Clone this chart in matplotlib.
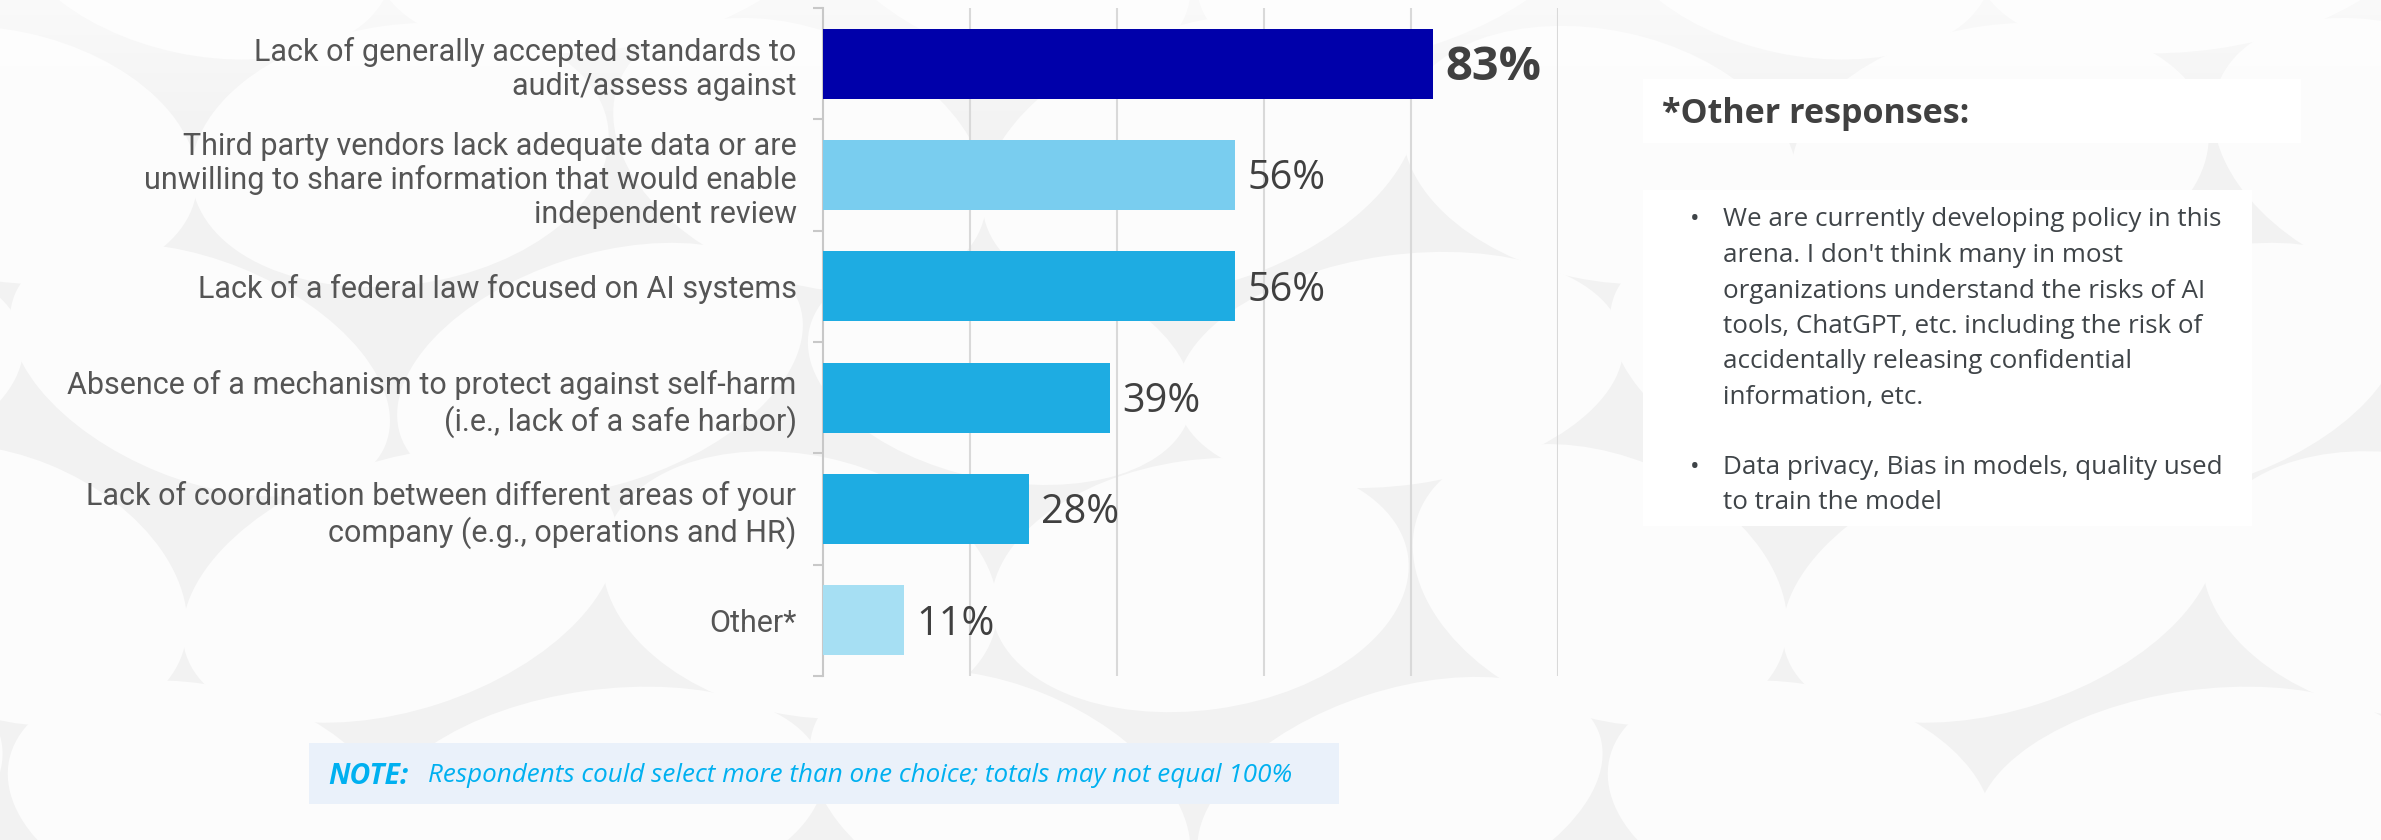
import matplotlib
matplotlib.use("Agg")
import matplotlib.pyplot as plt
from matplotlib import font_manager
from matplotlib.patches import Ellipse, Rectangle
import numpy as np

# ---- data ----
categories = [
    "Lack of generally accepted standards to\naudit/assess against",
    "Third party vendors lack adequate data or are\nunwilling to share information that would enable\nindependent review",
    "Lack of a federal law focused on AI systems",
    "Absence of a mechanism to protect against self-harm\n(i.e., lack of a safe harbor)",
    "Lack of coordination between different areas of your\ncompany (e.g., operations and HR)",
    "Other*",
]
values = [83, 56, 56, 39, 28, 11]
bar_colors = ["#0000AA", "#79CDEF", "#1EACE2", "#1EACE2", "#1EACE2", "#A6DFF3"]
value_labels = ["83%", "56%", "56%", "39%", "28%", "11%"]

other_title = "*Other responses:"
other_responses = [
    ["We are currently developing policy in this",
     "arena. I don't think many in most",
     "organizations understand the risks of AI",
     "tools, ChatGPT, etc. including the risk of",
     "accidentally releasing confidential",
     "information, etc."],
    ["Data privacy, Bias in models, quality used",
     "to train the model"],
]
note_head = "NOTE:"
note_body = "Respondents could select more than one choice; totals may not equal 100%"

# ---- fonts: use a family only if it ships a regular (400) upright face ----
regular = {f.name for f in font_manager.fontManager.ttflist
           if f.weight in (400, "normal", "regular") and f.style == "normal"
           and f.stretch == "normal"}


def pick(*names):
    for n in names:
        if n in regular:
            return n
    return "DejaVu Sans"


label_font = pick("Franklin Gothic Book", "Libre Franklin", "Public Sans",
                  "Roboto")
body_font = pick("Segoe UI", "Selawik", "Open Sans", "Noto Sans")

W, H = 2381, 840
DPI = 100
fig = plt.figure(figsize=(W / DPI, H / DPI), dpi=DPI)
fig.patch.set_facecolor("#f2f2f2")
renderer = fig.canvas.get_renderer()


def fit_size(text, width_px, **kw):
    """Font size (pt) at which `text` spans `width_px` pixels."""
    t = fig.text(0, 0, text, fontsize=20, **kw)
    w = t.get_window_extent(renderer).width
    t.remove()
    return 20 * width_px / w


def fx(px):
    return px / W


def fy(py):
    return 1 - py / H


# ---- background pattern of soft ellipses ----
bg = fig.add_axes([0, 0, 1, 1], zorder=0)
bg.axis("off")
col_step, row_step = 400, 215
for r, y0 in enumerate(range(-60, H + 220, row_step)):
    shift = (r % 2) * col_step / 2
    for c, x0 in enumerate(range(-200, W + 300, col_step)):
        ang = [-18, 12, -8, 22][(r + c) % 4]
        wdt = [420, 390, 450, 400][(r * 3 + c) % 4]
        hgt = [220, 250, 230, 260][(r + c * 2) % 4]
        bg.add_patch(Ellipse((x0 + shift, y0), wdt, hgt, angle=ang,
                             facecolor="#fcfcfc", edgecolor="none"))
# lighter wash across the top
grad = np.linspace(1, 0, 200).reshape(-1, 1)
bg.imshow(np.dstack([np.ones((200, 1, 3)), grad * 0.6]),
          extent=(0, W, 150, 0), aspect="auto", zorder=2)
bg.set_xlim(0, W)
bg.set_ylim(H, 0)

# ---- bar chart ----
ax_left, ax_right, ax_top, ax_bottom = 823, 1558, 8, 676
ax = fig.add_axes([fx(ax_left), fy(ax_bottom), fx(ax_right - ax_left),
                   (ax_bottom - ax_top) / H], zorder=3)
ax.patch.set_alpha(0)
pos = np.arange(len(categories))
ax.barh(pos, values, height=0.63, color=bar_colors, zorder=3)
ax.set_xlim(0, 100)
ax.set_ylim(len(categories) - 0.5, -0.5)
ax.set_xticks([20, 40, 60, 80, 100])
ax.xaxis.grid(True, color="#d9d9d9", linewidth=1.5)
ax.tick_params(axis="x", length=0, labelbottom=False)

label_size = fit_size("Lack of coordination between different areas of your",
                      709, fontfamily=label_font)
ax.set_yticks(pos)
ax.set_yticklabels(categories, fontfamily=label_font, fontsize=label_size,
                   color="#555555", linespacing=1.2)
ax.tick_params(axis="y", length=0, pad=19)
ax.set_yticks(np.arange(-0.5, len(categories)), minor=True)
ax.tick_params(axis="y", which="minor", length=7, color="#c8c8c8", width=1.5)
for s in ["top", "right", "bottom"]:
    ax.spines[s].set_visible(False)
ax.spines["left"].set_color("#c8c8c8")
ax.spines["left"].set_linewidth(1.5)
for lbl in ax.get_yticklabels():
    lbl.set_multialignment("right")

val_size = fit_size("56%", 78, fontfamily=body_font)
val_bold = fit_size("83%", 96, fontfamily=body_font, fontweight="bold")
for i, (v, t) in enumerate(zip(values, value_labels)):
    bold = i == 0
    ax.annotate(t, xy=(v, i), xytext=(9, -3), textcoords="offset points",
                ha="left", va="center", fontfamily=body_font,
                fontsize=val_bold if bold else val_size,
                fontweight="bold" if bold else "normal", color="#404040")

# ---- "Other responses" panel ----
bg.add_patch(Rectangle((1643, 79), 658, 64, facecolor="white",
                       edgecolor="none", zorder=4))
bg.add_patch(Rectangle((1643, 190), 609, 336, facecolor="white",
                       edgecolor="none", zorder=4))
title_size = fit_size(other_title, 307, fontfamily=body_font, fontweight="bold")
bg.text(1662, 114, other_title, fontfamily=body_font, fontsize=title_size,
        fontweight="bold", color="#404040", va="center", ha="left", zorder=5)
bullet_size = fit_size(other_responses[0][0], 497, fontfamily=body_font)
line_h = 35.5
block_gap = 34
y = 220
for block in other_responses:
    bg.text(1690, y, "\u2022", fontfamily=body_font, fontsize=bullet_size,
            color="#3f4448", va="center", ha="left", zorder=5)
    for line in block:
        bg.text(1723, y, line, fontfamily=body_font, fontsize=bullet_size,
                color="#3f4448", va="center", ha="left", zorder=5)
        y += line_h
    y += block_gap

# ---- note box ----
bg.add_patch(Rectangle((309, 743), 1030, 61, facecolor="#EAF1FA",
                       edgecolor="none", zorder=4))
head_size = fit_size(note_head, 80, fontfamily=body_font, fontweight="bold",
                     fontstyle="italic")
body_size = fit_size(note_body, 862, fontfamily=body_font, fontstyle="italic")
head = bg.text(328, 776, note_head, fontfamily=body_font, fontsize=head_size,
               fontweight="bold", fontstyle="italic", color="#00B0F0",
               va="center", ha="left", zorder=5)
bg.annotate(note_body, xy=(1, 0.5), xycoords=head, xytext=(14, 0),
            textcoords="offset points", fontfamily=body_font, fontsize=body_size,
            fontstyle="italic", color="#00B0F0", va="center", ha="left",
            zorder=5)

fig.savefig("out.png", dpi=DPI, facecolor=fig.get_facecolor())
